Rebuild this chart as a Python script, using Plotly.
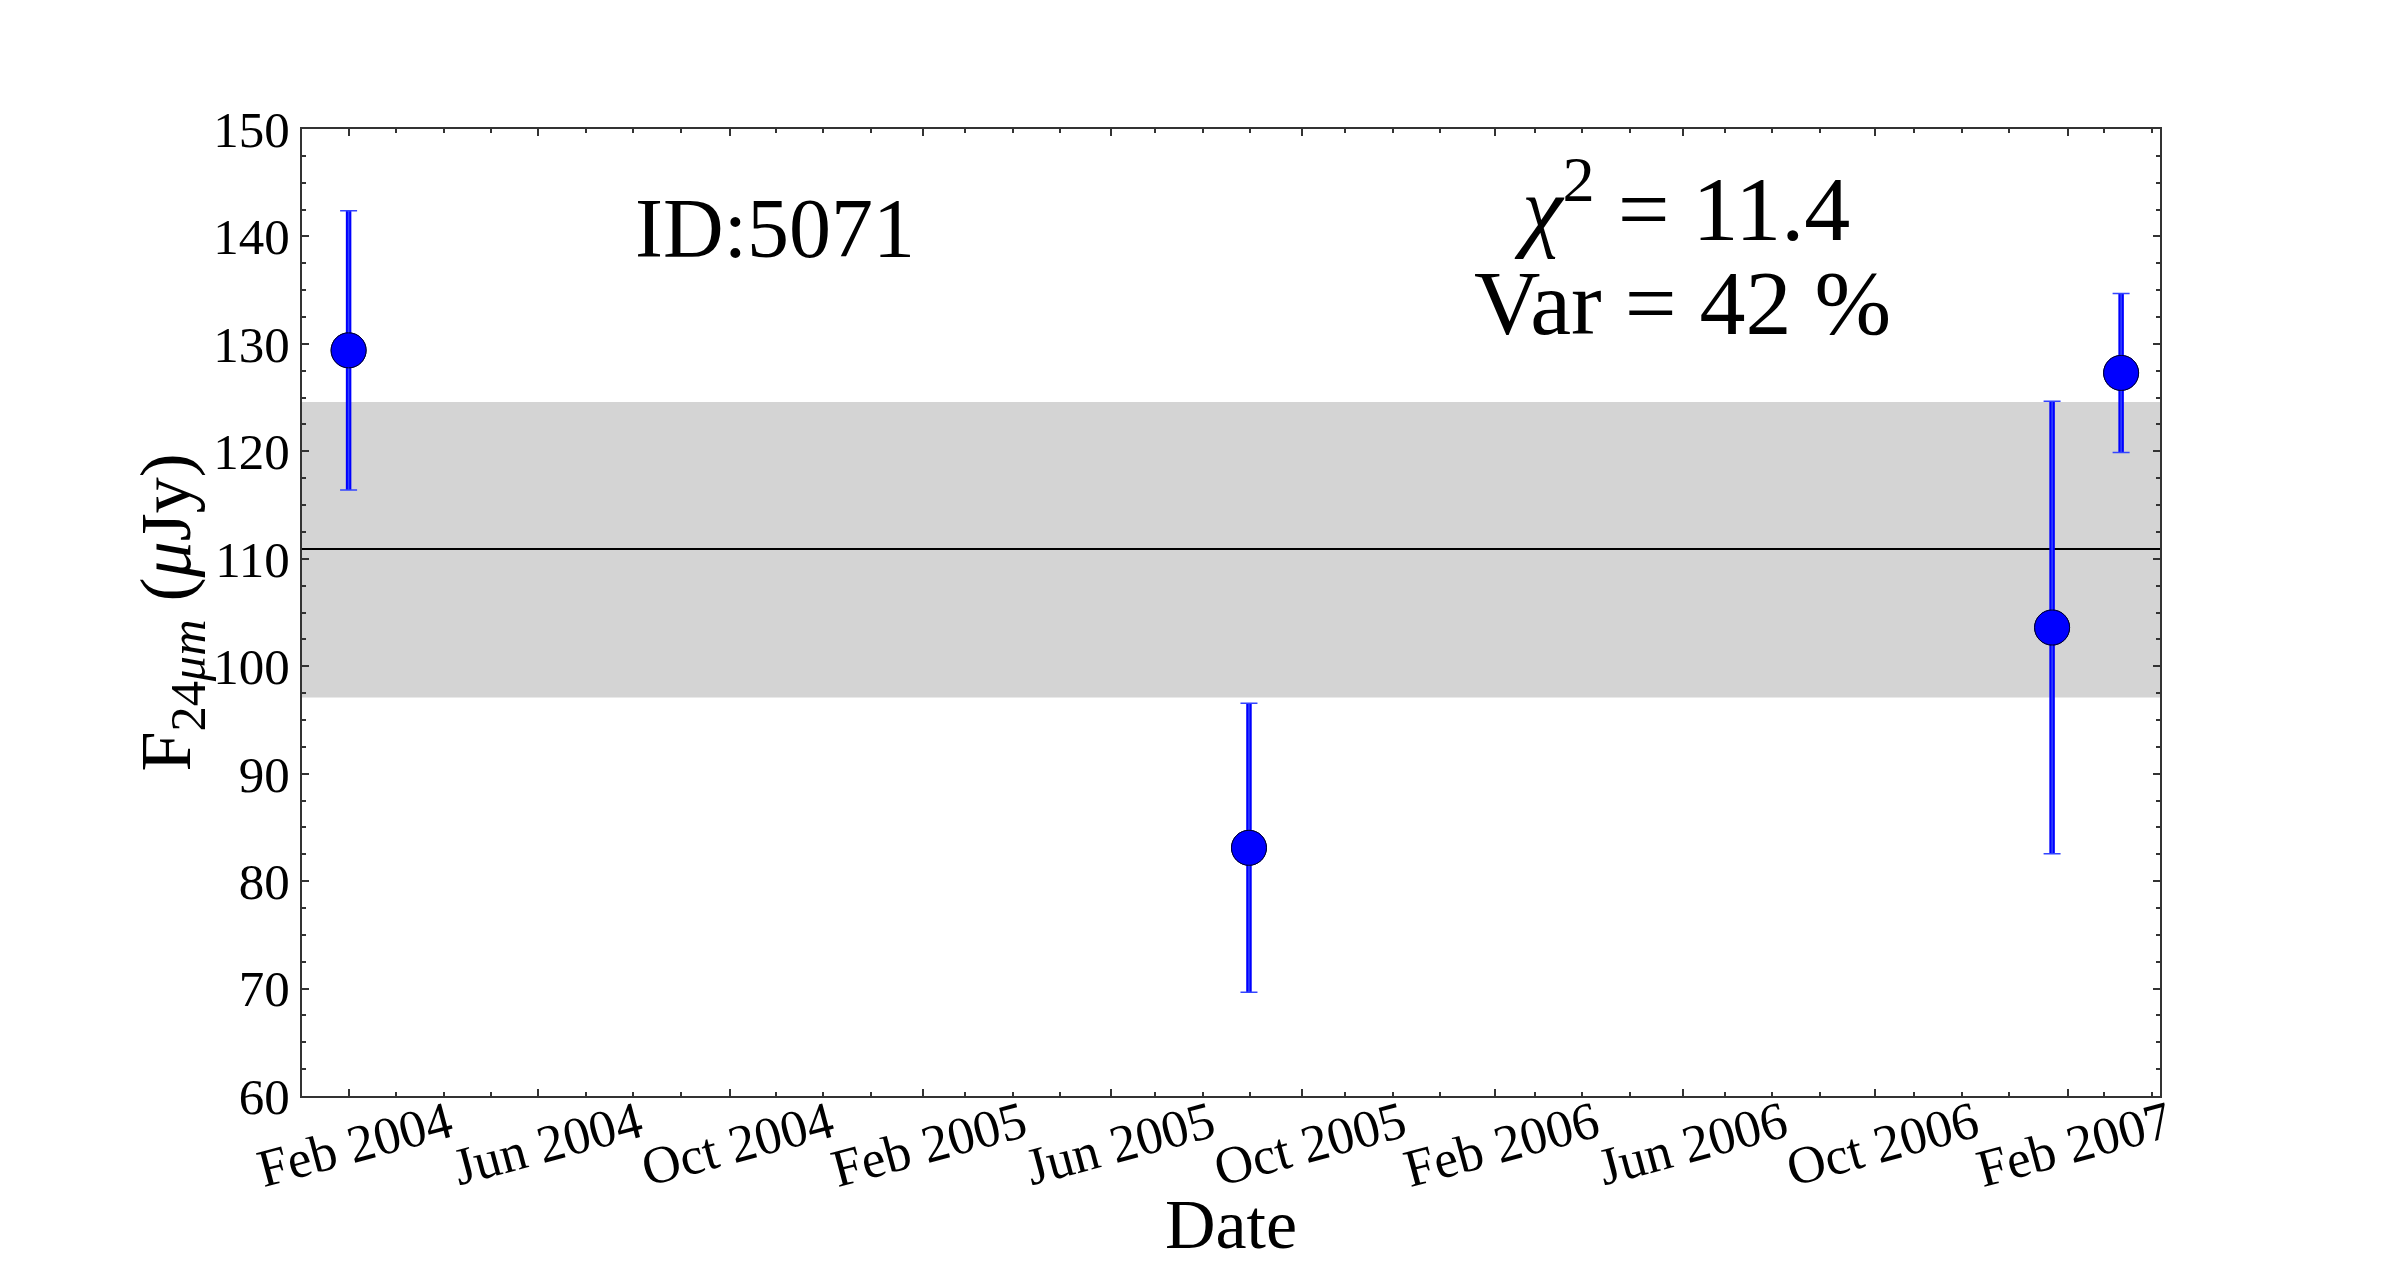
import datetime as dt

import plotly.graph_objects as go

# observation epochs and 24 micron fluxes
dates = ["2004-02-01", "2005-08-28", "2007-01-22", "2007-03-07"]
flux = [129.4, 83.1, 103.6, 127.3]
flux_err = [13.0, 13.45, 21.05, 7.4]

mean_flux = 110.9
band_low = 97.1
band_high = 124.6

chi2 = 11.4
var_pct = 42
source_id = 5071

x_range = ["2004-01-02 07:00", "2007-03-31 19:00"]
y_range = [60, 150]

FONT = "Liberation Serif"
AXIS_COLOR = "#333333"

# matplotlib-style minor ticks: a quarter of the first major interval, repeated
first_major = dt.datetime(2004, 2, 1)
minor_step = dt.timedelta(days=121 / 4)
minor_vals = [
    (first_major + k * minor_step).strftime("%Y-%m-%d %H:%M")
    for k in range(1, 39)
    if k % 4 != 0
]

fig = go.Figure()

# thick error bars without caps
fig.add_trace(
    go.Scatter(
        x=dates,
        y=flux,
        mode="markers",
        marker=dict(size=35, color="#0000ff", line=dict(color="#000033", width=1)),
        error_y=dict(
            type="data", array=flux_err, color="#0000ff", thickness=5.5, width=0
        ),
        showlegend=False,
    )
)
# thin caps drawn over the same bars
fig.add_trace(
    go.Scatter(
        x=dates,
        y=flux,
        mode="markers",
        marker=dict(size=35, color="#0000ff", line=dict(color="#000033", width=1)),
        error_y=dict(
            type="data", array=flux_err, color="#3344ff", thickness=1.5, width=8.5
        ),
        showlegend=False,
    )
)

# spread band and mean level
fig.add_hrect(
    y0=band_low, y1=band_high, fillcolor="#d4d4d4", line_width=0, layer="below"
)
fig.add_hline(y=mean_flux, line=dict(color="black", width=2), layer="below")

big_font = dict(family=FONT, size=92, color="black")
label_font = dict(family=FONT, size=70, color="black")

fig.add_annotation(
    text=f"ID:{source_id}",
    xref="paper", yref="paper",
    x=0.2547, y=0.897,
    xanchor="center", yanchor="middle",
    showarrow=False,
    font=dict(family=FONT, size=84, color="black"),
)
fig.add_annotation(
    text=f"<i>χ</i><sup>2</sup> = {chi2}",
    xref="paper", yref="paper",
    x=0.743, y=0.925,
    xanchor="center", yanchor="middle",
    showarrow=False,
    font=big_font,
)
fig.add_annotation(
    text=f"Var = {var_pct} %",
    xref="paper", yref="paper",
    x=0.743, y=0.82,
    xanchor="center", yanchor="middle",
    showarrow=False,
    font=big_font,
)

# axis titles placed as annotations so their offsets can be set exactly
fig.add_annotation(
    text="Date",
    xref="paper", yref="paper",
    x=0.5, y=-0.133,
    xanchor="center", yanchor="middle",
    showarrow=False,
    font=label_font,
)
fig.add_annotation(
    text="F<sub>24<i>μm</i></sub> (<i>μ</i>Jy)",
    xref="paper", yref="paper",
    x=-0.071, y=0.5,
    xanchor="center", yanchor="middle",
    textangle=-90,
    showarrow=False,
    font=dict(family=FONT, size=72, color="black"),
)

fig.update_xaxes(
    type="date",
    range=x_range,
    tick0="2004-02-01",
    dtick="M4",
    tickformat="%b %Y",
    tickangle=-15,
    ticklabelshift=100,
    ticklabelstandoff=-25,
    ticks="inside",
    ticklen=7,
    tickwidth=2,
    tickcolor=AXIS_COLOR,
    minor=dict(
        tickmode="array",
        tickvals=minor_vals,
        ticks="inside",
        ticklen=4,
        tickwidth=2,
        tickcolor=AXIS_COLOR,
    ),
    showline=True,
    linecolor=AXIS_COLOR,
    linewidth=2,
    mirror="allticks",
    showgrid=False,
    zeroline=False,
    tickfont=dict(family=FONT, size=53, color="black"),
)
fig.update_yaxes(
    range=y_range,
    tick0=60,
    dtick=10,
    ticks="inside",
    ticklen=7,
    tickwidth=2,
    tickcolor=AXIS_COLOR,
    minor=dict(dtick=2.5, ticks="inside", ticklen=4, tickwidth=2, tickcolor=AXIS_COLOR),
    showline=True,
    linecolor=AXIS_COLOR,
    linewidth=2,
    mirror="allticks",
    showgrid=False,
    zeroline=False,
    tickfont=dict(family=FONT, size=51, color="black"),
)

# the page adds an 8 px body margin, so the figure is a little smaller
fig.update_layout(
    width=2384,
    height=1269,
    margin=dict(l=294, r=232, t=121, b=181, pad=0),
    plot_bgcolor="white",
    paper_bgcolor="white",
    showlegend=False,
)

fig.write_html("out.html")
